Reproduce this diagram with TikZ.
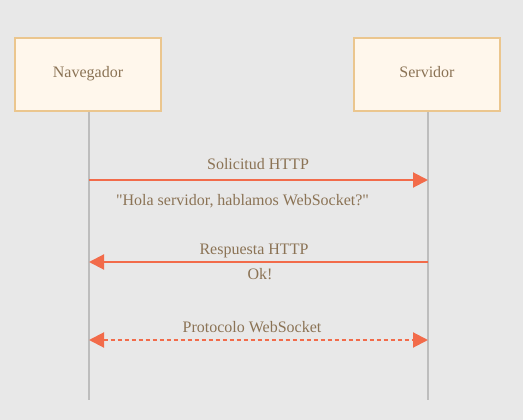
\documentclass[tikz,border=0pt]{standalone}
\usepackage{fontspec}
\setmainfont{Liberation Serif}
\usetikzlibrary{arrows.meta}
\definecolor{bgcol}{HTML}{E8E8E8}
\definecolor{boxfill}{HTML}{FFF7EC}
\definecolor{boxline}{HTML}{EBC68E}
\definecolor{txtcol}{HTML}{8B7355}
\definecolor{arrowcol}{HTML}{F26B4A}
\definecolor{lifecol}{HTML}{BDBDBD}
\tikzset{
actor/.style={
  rectangle,
  draw=boxline,
  fill=boxfill,
  line width=2pt,
  minimum width=146pt,
  minimum height=73pt,
  text=txtcol,
  text height=12pt,
  text depth=5pt,
  font=\fontsize{16}{19}\selectfont
},
lbl/.style={text=txtcol,font=\fontsize{16}{19}\selectfont,inner sep=0pt,anchor=base},
lifeline/.style={draw=lifecol,line width=2pt},
msg/.style={draw=arrowcol,line width=2pt,-{Triangle[length=15pt,width=15pt]}},
both/.style={msg,{Triangle[length=15pt,width=15pt]}-{Triangle[length=15pt,width=15pt]},dash pattern=on 4pt off 3pt}
}
\begin{document}
\begin{tikzpicture}[x=1pt,y=-1pt]
\fill[bgcol] (0,0) rectangle (523,420);
\useasboundingbox (0,0) rectangle (523,420);
% the actors
\node[actor] (nav) at (88,74.5) {Navegador};
\node[actor] (srv) at (427,74.5) {Servidor};
\coordinate (navend) at (89,400);
\coordinate (srvend) at (428,400);
\draw[lifeline] (nav.south -| navend) -- (navend);
\draw[lifeline] (srv.south -| srvend) -- (srvend);
% the messages
\foreach \n/\y in {1/180,2/262,3/340}
{
  \coordinate (nav\n) at (89,\y);
  \coordinate (srv\n) at (428,\y);
}
\draw[msg] (nav1) -- (srv1);
\draw[msg] (srv2) -- (nav2);
\draw[both] (nav3) -- (srv3);
% the labels
\node[lbl] (req) at (258,170) {Solicitud HTTP};
\node[lbl] (hola) at (242.5,205) {\textquotedbl Hola servidor, hablamos WebSocket?\textquotedbl};
\node[lbl] (resp) at (254,254) {Respuesta HTTP};
\node[lbl] (ok) at (260,279) {Ok!};
\node[lbl] (ws) at (252,332) {Protocolo WebSocket};
\end{tikzpicture}
\end{document}
